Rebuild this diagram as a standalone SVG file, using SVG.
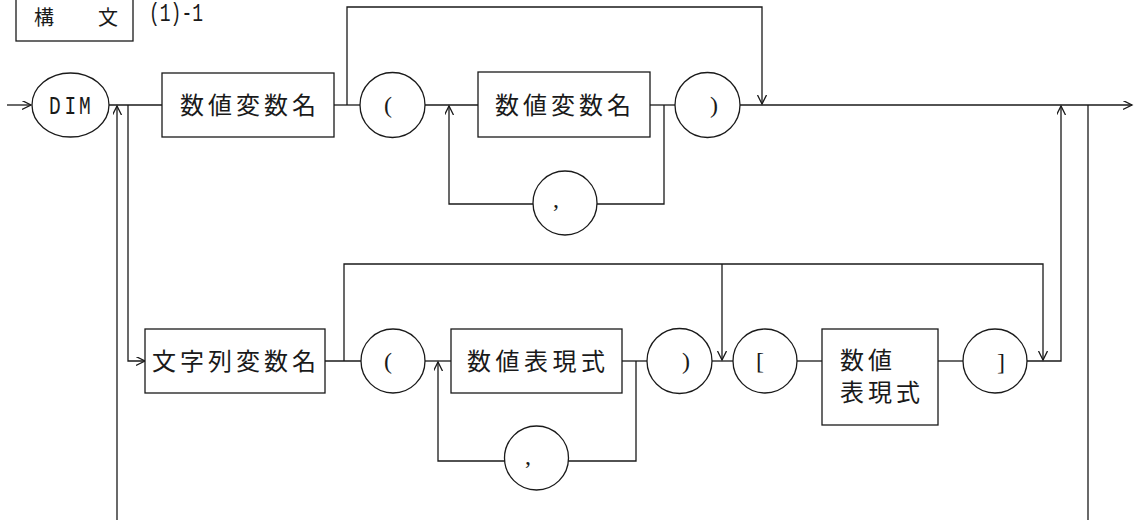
<svg xmlns="http://www.w3.org/2000/svg" width="1135" height="520" viewBox="0 0 1135 520">
<style>
.sh{fill:#fff;stroke:#1a1a1a;stroke-width:1.3}
.ln{fill:none;stroke:#1a1a1a;stroke-width:1.3}
.ar{marker-end:url(#ah)}
.jp{font-family:"Noto Sans CJK JP","Noto Sans CJK SC",sans-serif;font-size:24px;fill:#1a1a1a;letter-spacing:4px}
.sy{font-family:"Liberation Serif",serif;font-size:24px;fill:#1a1a1a}
.mo{font-family:"Liberation Mono",monospace;fill:#1a1a1a}
</style>
<defs>
<marker id="ah" markerUnits="userSpaceOnUse" markerWidth="12" markerHeight="12" refX="9" refY="4.5" orient="auto">
<path d="M0,0 L9,4.5 L0,9" fill="none" stroke="#1a1a1a" stroke-width="1.3"/>
</marker>
</defs>
<rect width="1135" height="520" fill="#fff"/>

<g id="title">
<rect class="sh" x="16" y="-2" width="117" height="43"/>
<text class="jp" x="34" y="25" style="font-size:20px;letter-spacing:12px">構　文</text>
<text class="mo" font-size="25" transform="scale(0.72,1)" x="207" y="21">(1)-1</text>
</g>

<g id="connectors">
<path class="ln ar" d="M7,105 H31"/>
<path class="ln" d="M109,105 H162"/>
<path class="ln ar" d="M128,105 V361 H145"/>
<path class="ln ar" d="M117,520 V106"/>
<path class="ln" d="M334,105 H360"/>
<path class="ln ar" d="M347,105 V7 H762 V104"/>
<path class="ln" d="M425,105 H478"/>
<path class="ln" d="M650,105 H675"/>
<path class="ln" d="M664,105 V204 H597"/>
<path class="ln ar" d="M533,204 H449 V106"/>
<path class="ln ar" d="M740,105 H1132"/>
<path class="ln ar" d="M1027,361 H1061 V106"/>
<path class="ln" d="M1088,105 V520"/>
<path class="ln" d="M325,361 H361"/>
<path class="ln ar" d="M344,361 V264 H1043 V360"/>
<path class="ln ar" d="M722,264 V360"/>
<path class="ln" d="M425,361 H451"/>
<path class="ln" d="M622,361 H647"/>
<path class="ln" d="M636,361 V461 H568"/>
<path class="ln ar" d="M505,461 H438 V362"/>
<path class="ln" d="M712,361 H733"/>
<path class="ln" d="M797,361 H822"/>
<path class="ln" d="M938,361 H963"/>
</g>

<g id="dim">
<ellipse class="sh" cx="70.5" cy="105" rx="38.5" ry="32"/>
<text class="mo" font-size="26" transform="scale(0.75,1)" x="65.3 86.1 105.3" y="114">DIM</text>
</g>

<g id="num-var-1">
<rect class="sh" x="162" y="73" width="172" height="64"/>
<text class="jp" x="180" y="114">数値変数名</text>
</g>

<g id="lparen-1">
<circle class="sh" cx="392.5" cy="105" r="32.5"/>
<text class="sy" x="384" y="113">(</text>
</g>

<g id="num-var-2">
<rect class="sh" x="478" y="72" width="172" height="65"/>
<text class="jp" x="495" y="114">数値変数名</text>
</g>

<g id="comma-1">
<circle class="sh" cx="565" cy="203" r="32"/>
<text class="sy" x="553" y="207" font-size="20">,</text>
</g>

<g id="rparen-1">
<circle class="sh" cx="707.5" cy="105" r="32.5"/>
<text class="sy" x="710" y="113">)</text>
</g>

<g id="str-var">
<rect class="sh" x="145" y="329" width="180" height="64"/>
<text class="jp" x="152" y="370">文字列変数名</text>
</g>

<g id="lparen-2">
<circle class="sh" cx="393" cy="361" r="32"/>
<text class="sy" x="384" y="369">(</text>
</g>

<g id="num-expr-1">
<rect class="sh" x="451" y="329" width="171" height="64"/>
<text class="jp" x="467" y="370" style="letter-spacing:4.5px">数値表現式</text>
</g>

<g id="comma-2">
<circle class="sh" cx="536.5" cy="458" r="32"/>
<text class="sy" x="525" y="464" font-size="20">,</text>
</g>

<g id="rparen-2">
<circle class="sh" cx="679.5" cy="361" r="32.5"/>
<text class="sy" x="682" y="369">)</text>
</g>

<g id="lbracket">
<circle class="sh" cx="765" cy="361" r="32"/>
<text class="sy" x="756" y="369">[</text>
</g>

<g id="num-expr-2">
<rect class="sh" x="822" y="329" width="116" height="96"/>
<text class="jp" x="840" y="369">数値</text>
<text class="jp" x="840" y="401">表現式</text>
</g>

<g id="rbracket">
<circle class="sh" cx="995" cy="361" r="32"/>
<text class="sy" x="997" y="370" font-size="26">]</text>
</g>
</svg>
